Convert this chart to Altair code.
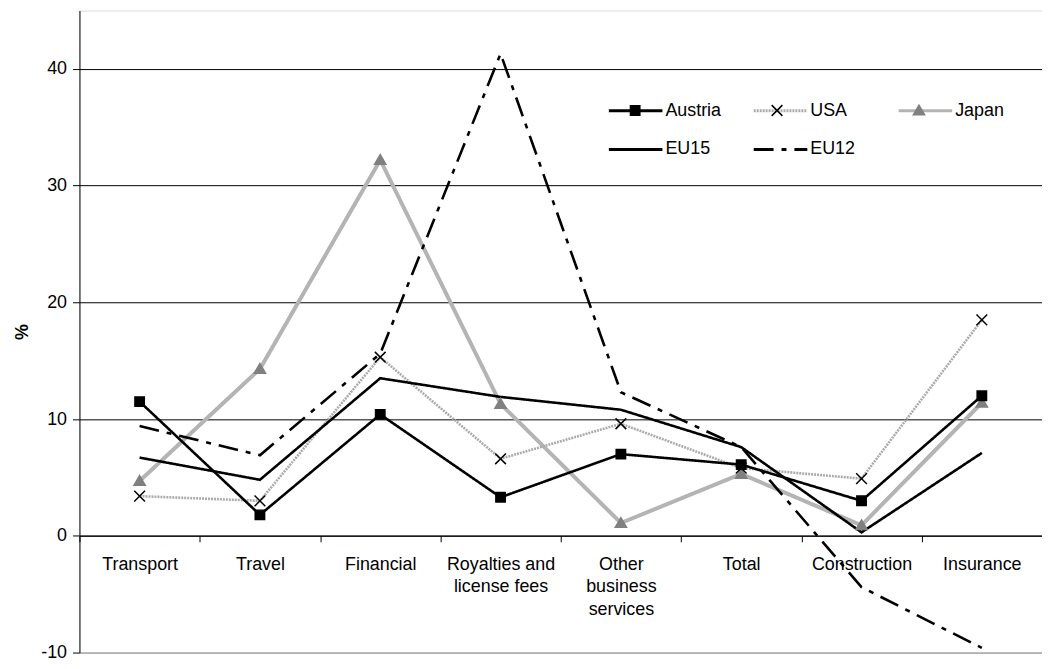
import altair as alt
import pandas as pd

FONT = "Liberation Sans"
FS = 18

categories = ["Transport", "Travel", "Financial", "Royalties and license fees",
              "Other business services", "Total", "Construction", "Insurance"]
series_names = ["Austria", "USA", "Japan", "EU15", "EU12"]
draw_order = ["Japan", "USA", "EU12", "EU15", "Austria"]
marker_series = ["Austria", "USA", "Japan"]

austria = [11.5, 1.8, 10.4, 3.3, 7.0, 6.1, 3.0, 12.0]
usa = [3.4, 3.0, 15.3, 6.6, 9.6, 5.8, 4.9, 18.5]
japan = [4.7, 14.3, 32.2, 11.3, 1.1, 5.3, 0.9, 11.4]
eu15 = [6.7, 4.8, 13.5, 11.9, 10.8, 7.6, 0.3, 7.1]
eu12 = [9.4, 6.9, 15.6, 41.3, 12.3, 7.6, -4.4, -9.6]

values = {"Austria": austria, "USA": usa, "Japan": japan, "EU15": eu15, "EU12": eu12}
rows = []
for s in draw_order:
    for c, v in zip(categories, values[s]):
        rows.append({"series": s, "category": c, "value": v})
df = pd.DataFrame(rows)

# styles
JAPAN_LINE = "#b4b4b4"
line_colors = ["#000000", "#ababab", JAPAN_LINE, "#000000", "#000000"]
dashes = [[1, 0], [2, 1], [1, 0], [1, 0], [20, 8, 5, 8]]
PAD = "M-2,0M2,0"  # invisible moves so marker symbols span the same width as line symbols
SQ = PAD + "M-0.35,-0.35H0.35V0.35H-0.35Z"
XX = PAD + "M-0.4,-0.4L0.4,0.4M-0.4,0.4L0.4,-0.4"
TR = PAD + "M0,-0.4L0.42,0.32H-0.42Z"
NONE = PAD
shapes = [SQ, XX, TR, NONE, NONE]
fills = ["#000000", "transparent", "#808080", "transparent", "transparent"]
strokes = ["#000000", "#000000", "#808080", "transparent", "transparent"]

# marker legend uses its own keys so it stays separate from the line legend
SUFFIX = "_m"
marker_keys = [s + SUFFIX for s in series_names]

W, H = 970, 647
YMIN, YMAX = -10, 45
x_axis_offset = -H * (0 - YMIN) / (YMAX - YMIN)

leg_common = dict(
    title=None, orient="none", legendX=545.5, legendY=86,
    direction="horizontal", columns=3, gridAlign="all",
    columnPadding=26, rowPadding=15, symbolSize=729,
    labelOffset=15, labelFont=FONT, labelFontSize=FS, padding=0, labelLimit=0,
)
legA = alt.Legend(symbolType="M-2,0H2", symbolStrokeWidth=3, symbolOpacity=1,
                  labelColor="black", **leg_common)
legB = alt.Legend(symbolStrokeWidth=1.5, symbolOpacity=1, labelColor="transparent",
                  labelExpr="replace(datum.label, '" + SUFFIX + "', '')", **leg_common)

x_enc = alt.X(
    "category:N", sort=categories,
    scale=alt.Scale(type="band", paddingInner=0, paddingOuter=0),
    bandPosition=0.5,
    axis=alt.Axis(
        title=None, orient="bottom", offset=x_axis_offset, tickBand="extent",
        domainColor="black", tickColor="black", tickSize=6, labelPadding=14,
        labelFont=FONT, labelFontSize=FS, labelColor="black", labelAngle=0,
        labelLineHeight=22.6, labelLimit=0, labelOverlap=False, grid=False,
        labelExpr=("datum.label == 'Royalties and license fees' ? ['Royalties and', 'license fees'] : "
                   "datum.label == 'Other business services' ? ['Other', 'business', 'services'] : datum.label"),
    ),
)
y_enc = alt.Y(
    "value:Q",
    scale=alt.Scale(domain=[YMIN, YMAX], nice=False, zero=False),
    axis=alt.Axis(
        values=[-10, 0, 10, 20, 30, 40], title="%", titleFont=FONT,
        titleFontWeight="bold", titleFontSize=FS, titleColor="black", titlePadding=9,
        labelFont=FONT, labelFontSize=FS, labelColor="black", labelPadding=6,
        labelExpr="datum.value < 0 ? '-' + abs(datum.value) : '' + datum.value",
        tickSize=7, tickColor="black", domainColor="black", grid=True,
        gridColor={"condition": {"test": "datum.value == -10", "value": "#808080"}, "value": "#000000"},
        gridWidth=1,
    ),
)

# thicker underlay for the Japan line
japan_thick = alt.Chart(df).transform_filter(
    alt.datum.series == "Japan"
).mark_line(strokeWidth=4, color=JAPAN_LINE).encode(x=x_enc, y=y_enc)

lines = alt.Chart(df).mark_line(strokeWidth=2.6).encode(
    x=x_enc,
    y=y_enc,
    color=alt.Color("series:N", scale=alt.Scale(domain=series_names, range=line_colors), legend=legA),
    strokeDash=alt.StrokeDash("series:N", scale=alt.Scale(domain=series_names, range=dashes), legend=legA),
)

points = alt.Chart(df).transform_filter(
    alt.FieldOneOfPredicate(field="series", oneOf=marker_series)
).transform_calculate(series2="datum.series + '" + SUFFIX + "'").mark_point(
    size=729, strokeWidth=1.5, opacity=1
).encode(
    x=x_enc,
    y=y_enc,
    shape=alt.Shape("series2:N", scale=alt.Scale(domain=marker_keys, range=shapes), legend=legB),
    fill=alt.Fill("series2:N", scale=alt.Scale(domain=marker_keys, range=fills), legend=legB),
    stroke=alt.Stroke("series2:N", scale=alt.Scale(domain=marker_keys, range=strokes), legend=legB),
)

chart = alt.layer(japan_thick, lines, points).properties(
    width=W, height=H,
    padding={"left": 72, "top": 0, "right": 0, "bottom": 10},
    autosize=alt.AutoSizeParams(type="none"),
).configure_view(stroke="#808080", strokeWidth=1).configure(font=FONT)

chart.save("out.html", embed_options={"renderer": "svg", "actions": False})
